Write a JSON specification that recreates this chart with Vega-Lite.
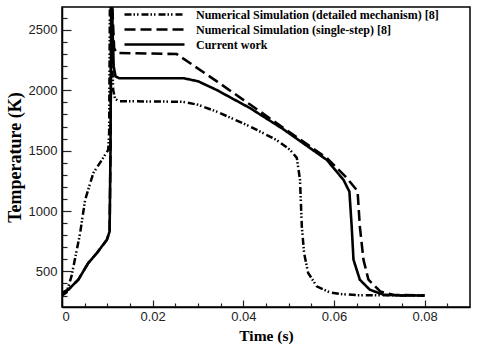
{
  "$schema": "https://vega.github.io/schema/vega-lite/v6.json",
  "width": 408,
  "height": 300,
  "autosize": {"type": "none"},
  "padding": {"left": 62, "top": 7, "right": 10, "bottom": 38},
  "background": "white",
  "config": {
    "view": {"stroke": "black", "strokeWidth": 1.5},
    "axis": {"domainColor": "black", "domainWidth": 1.5, "grid": false, "labelFont": "Liberation Sans", "labelColor": "#222", "labelFontSize": 13, "titleFont": "Liberation Serif", "titleFontWeight": "bold", "titleColor": "#000000"},
    "legend": {"labelFont": "Liberation Serif", "labelFontWeight": "bold", "labelFontSize": 12, "labelColor": "black", "labelLimit": 0}
  },
  "datasets": {
    "curves": [
      {"series": "Numerical Simulation (detailed mechanism) [8]", "t": 0, "T": 300},
      {"series": "Numerical Simulation (detailed mechanism) [8]", "t": 0.001, "T": 325},
      {"series": "Numerical Simulation (detailed mechanism) [8]", "t": 0.0021, "T": 460},
      {"series": "Numerical Simulation (detailed mechanism) [8]", "t": 0.004, "T": 817},
      {"series": "Numerical Simulation (detailed mechanism) [8]", "t": 0.0051, "T": 1093},
      {"series": "Numerical Simulation (detailed mechanism) [8]", "t": 0.0069, "T": 1314},
      {"series": "Numerical Simulation (detailed mechanism) [8]", "t": 0.0088, "T": 1424},
      {"series": "Numerical Simulation (detailed mechanism) [8]", "t": 0.0102, "T": 1507},
      {"series": "Numerical Simulation (detailed mechanism) [8]", "t": 0.0104, "T": 1650},
      {"series": "Numerical Simulation (detailed mechanism) [8]", "t": 0.0106, "T": 2950},
      {"series": "Numerical Simulation (detailed mechanism) [8]", "t": 0.011, "T": 2300},
      {"series": "Numerical Simulation (detailed mechanism) [8]", "t": 0.0113, "T": 2000},
      {"series": "Numerical Simulation (detailed mechanism) [8]", "t": 0.0117, "T": 1930},
      {"series": "Numerical Simulation (detailed mechanism) [8]", "t": 0.0125, "T": 1910},
      {"series": "Numerical Simulation (detailed mechanism) [8]", "t": 0.0267, "T": 1905},
      {"series": "Numerical Simulation (detailed mechanism) [8]", "t": 0.03, "T": 1880},
      {"series": "Numerical Simulation (detailed mechanism) [8]", "t": 0.0341, "T": 1824},
      {"series": "Numerical Simulation (detailed mechanism) [8]", "t": 0.0415, "T": 1700},
      {"series": "Numerical Simulation (detailed mechanism) [8]", "t": 0.0473, "T": 1589},
      {"series": "Numerical Simulation (detailed mechanism) [8]", "t": 0.0503, "T": 1507},
      {"series": "Numerical Simulation (detailed mechanism) [8]", "t": 0.0518, "T": 1440},
      {"series": "Numerical Simulation (detailed mechanism) [8]", "t": 0.0525, "T": 1258},
      {"series": "Numerical Simulation (detailed mechanism) [8]", "t": 0.0527, "T": 1065},
      {"series": "Numerical Simulation (detailed mechanism) [8]", "t": 0.0529, "T": 873},
      {"series": "Numerical Simulation (detailed mechanism) [8]", "t": 0.0534, "T": 652},
      {"series": "Numerical Simulation (detailed mechanism) [8]", "t": 0.0543, "T": 487},
      {"series": "Numerical Simulation (detailed mechanism) [8]", "t": 0.0562, "T": 376},
      {"series": "Numerical Simulation (detailed mechanism) [8]", "t": 0.0591, "T": 326},
      {"series": "Numerical Simulation (detailed mechanism) [8]", "t": 0.0613, "T": 313},
      {"series": "Numerical Simulation (detailed mechanism) [8]", "t": 0.065, "T": 303},
      {"series": "Numerical Simulation (detailed mechanism) [8]", "t": 0.08, "T": 300},
      {"series": "Numerical Simulation (single-step) [8]", "t": 0, "T": 320},
      {"series": "Numerical Simulation (single-step) [8]", "t": 0.0014, "T": 349},
      {"series": "Numerical Simulation (single-step) [8]", "t": 0.0036, "T": 431},
      {"series": "Numerical Simulation (single-step) [8]", "t": 0.0058, "T": 570},
      {"series": "Numerical Simulation (single-step) [8]", "t": 0.0077, "T": 652},
      {"series": "Numerical Simulation (single-step) [8]", "t": 0.0099, "T": 762},
      {"series": "Numerical Simulation (single-step) [8]", "t": 0.0105, "T": 830},
      {"series": "Numerical Simulation (single-step) [8]", "t": 0.0107, "T": 1500},
      {"series": "Numerical Simulation (single-step) [8]", "t": 0.0109, "T": 2950},
      {"series": "Numerical Simulation (single-step) [8]", "t": 0.0112, "T": 2600},
      {"series": "Numerical Simulation (single-step) [8]", "t": 0.0115, "T": 2350},
      {"series": "Numerical Simulation (single-step) [8]", "t": 0.012, "T": 2310},
      {"series": "Numerical Simulation (single-step) [8]", "t": 0.0253, "T": 2300},
      {"series": "Numerical Simulation (single-step) [8]", "t": 0.034, "T": 2078},
      {"series": "Numerical Simulation (single-step) [8]", "t": 0.0415, "T": 1882},
      {"series": "Numerical Simulation (single-step) [8]", "t": 0.0488, "T": 1690},
      {"series": "Numerical Simulation (single-step) [8]", "t": 0.0584, "T": 1440},
      {"series": "Numerical Simulation (single-step) [8]", "t": 0.0628, "T": 1275},
      {"series": "Numerical Simulation (single-step) [8]", "t": 0.0652, "T": 1165},
      {"series": "Numerical Simulation (single-step) [8]", "t": 0.0657, "T": 873},
      {"series": "Numerical Simulation (single-step) [8]", "t": 0.0665, "T": 597},
      {"series": "Numerical Simulation (single-step) [8]", "t": 0.0676, "T": 431},
      {"series": "Numerical Simulation (single-step) [8]", "t": 0.0702, "T": 334},
      {"series": "Numerical Simulation (single-step) [8]", "t": 0.073, "T": 306},
      {"series": "Numerical Simulation (single-step) [8]", "t": 0.08, "T": 300},
      {"series": "Current work", "t": 0, "T": 320},
      {"series": "Current work", "t": 0.0014, "T": 349},
      {"series": "Current work", "t": 0.0036, "T": 431},
      {"series": "Current work", "t": 0.0058, "T": 570},
      {"series": "Current work", "t": 0.0077, "T": 652},
      {"series": "Current work", "t": 0.0099, "T": 762},
      {"series": "Current work", "t": 0.0105, "T": 830},
      {"series": "Current work", "t": 0.0107, "T": 1500},
      {"series": "Current work", "t": 0.0109, "T": 2950},
      {"series": "Current work", "t": 0.0112, "T": 2450},
      {"series": "Current work", "t": 0.0114, "T": 2200},
      {"series": "Current work", "t": 0.0118, "T": 2115},
      {"series": "Current work", "t": 0.0126, "T": 2100},
      {"series": "Current work", "t": 0.0268, "T": 2100},
      {"series": "Current work", "t": 0.03, "T": 2075},
      {"series": "Current work", "t": 0.0341, "T": 2003},
      {"series": "Current work", "t": 0.0415, "T": 1852},
      {"series": "Current work", "t": 0.0488, "T": 1678},
      {"series": "Current work", "t": 0.0584, "T": 1424},
      {"series": "Current work", "t": 0.0621, "T": 1258},
      {"series": "Current work", "t": 0.0634, "T": 1160},
      {"series": "Current work", "t": 0.0639, "T": 873},
      {"series": "Current work", "t": 0.0643, "T": 597},
      {"series": "Current work", "t": 0.0657, "T": 431},
      {"series": "Current work", "t": 0.0679, "T": 348},
      {"series": "Current work", "t": 0.0709, "T": 307},
      {"series": "Current work", "t": 0.075, "T": 300},
      {"series": "Current work", "t": 0.08, "T": 300}
    ]
  },
  "data": {"name": "curves"},
  "resolve": {"axis": {"x": "independent", "y": "independent"}},
  "layer": [
    {
      "mark": {"type": "line", "opacity": 0},
      "encoding": {
        "x": {"field": "t", "type": "quantitative", "scale": {"domain": [0, 0.09], "nice": false},
          "axis": {"orient": "top", "offset": -300, "values": [0, 0.005, 0.01, 0.015, 0.02, 0.025, 0.03, 0.035, 0.04, 0.045, 0.05, 0.055, 0.06, 0.065, 0.07, 0.075, 0.08, 0.085],
            "ticks": true, "tickColor": "#222", "tickWidth": 1.2,
            "tickSize": {"condition": {"test": "indexof([0, 0.02, 0.04, 0.06, 0.08], datum.value) >= 0", "value": 7}, "value": 4},
            "labels": false, "domain": false, "title": null}},
        "y": {"field": "T", "type": "quantitative", "scale": {"domain": [205, 2690], "nice": false, "zero": false},
          "axis": {"orient": "right", "offset": -408, "values": [300, 400, 500, 600, 700, 800, 900, 1000, 1100, 1200, 1300, 1400, 1500, 1600, 1700, 1800, 1900, 2000, 2100, 2200, 2300, 2400, 2500, 2600],
            "ticks": true, "tickColor": "#222", "tickWidth": 1.2,
            "tickSize": {"condition": {"test": "datum.value % 500 == 0", "value": 9}, "value": 5},
            "labels": false, "domain": false, "title": null}},
        "detail": {"field": "series"}
      }
    },
    {
      "mark": {"type": "line", "color": "black", "clip": true, "strokeCap": "butt"},
      "encoding": {
        "x": {"field": "t", "type": "quantitative", "scale": {"domain": [0, 0.09], "nice": false},
          "axis": {"orient": "bottom", "values": [0, 0.02, 0.04, 0.06, 0.08], "labelExpr": "datum.value == 0 ? '0' : format(datum.value, '.2f')", "ticks": false, "labelPadding": 3, "title": "Time (s)", "titleFontSize": 15.5, "titleY": 33, "titleBaseline": "alphabetic"}},
        "y": {"field": "T", "type": "quantitative", "scale": {"domain": [205, 2690], "nice": false, "zero": false},
          "axis": {"orient": "left", "values": [500, 1000, 1500, 2000, 2500], "format": "d", "ticks": false, "labelPadding": 5, "title": "Temperature (K)", "titleFontSize": 18, "titlePadding": 4}},
        "strokeDash": {"field": "series", "type": "nominal",
          "scale": {"domain": ["Numerical Simulation (detailed mechanism) [8]", "Numerical Simulation (single-step) [8]", "Current work"], "range": [[7, 2, 1.5, 2, 1.5, 3], [11, 5], [1, 0]]},
          "legend": {"title": null, "orient": "none", "legendX": 86, "legendY": 1, "padding": 0, "symbolType": "M-6,0H6", "symbolSize": 100, "symbolStrokeWidth": 2.5, "symbolStrokeColor": "black", "symbolFillColor": "transparent", "labelOffset": 35, "rowPadding": 2}},
        "strokeWidth": {"field": "series", "type": "nominal",
          "scale": {"domain": ["Numerical Simulation (detailed mechanism) [8]", "Numerical Simulation (single-step) [8]", "Current work"], "range": [2.5, 2.6, 2.6]},
          "legend": null}
      }
    }
  ]
}
